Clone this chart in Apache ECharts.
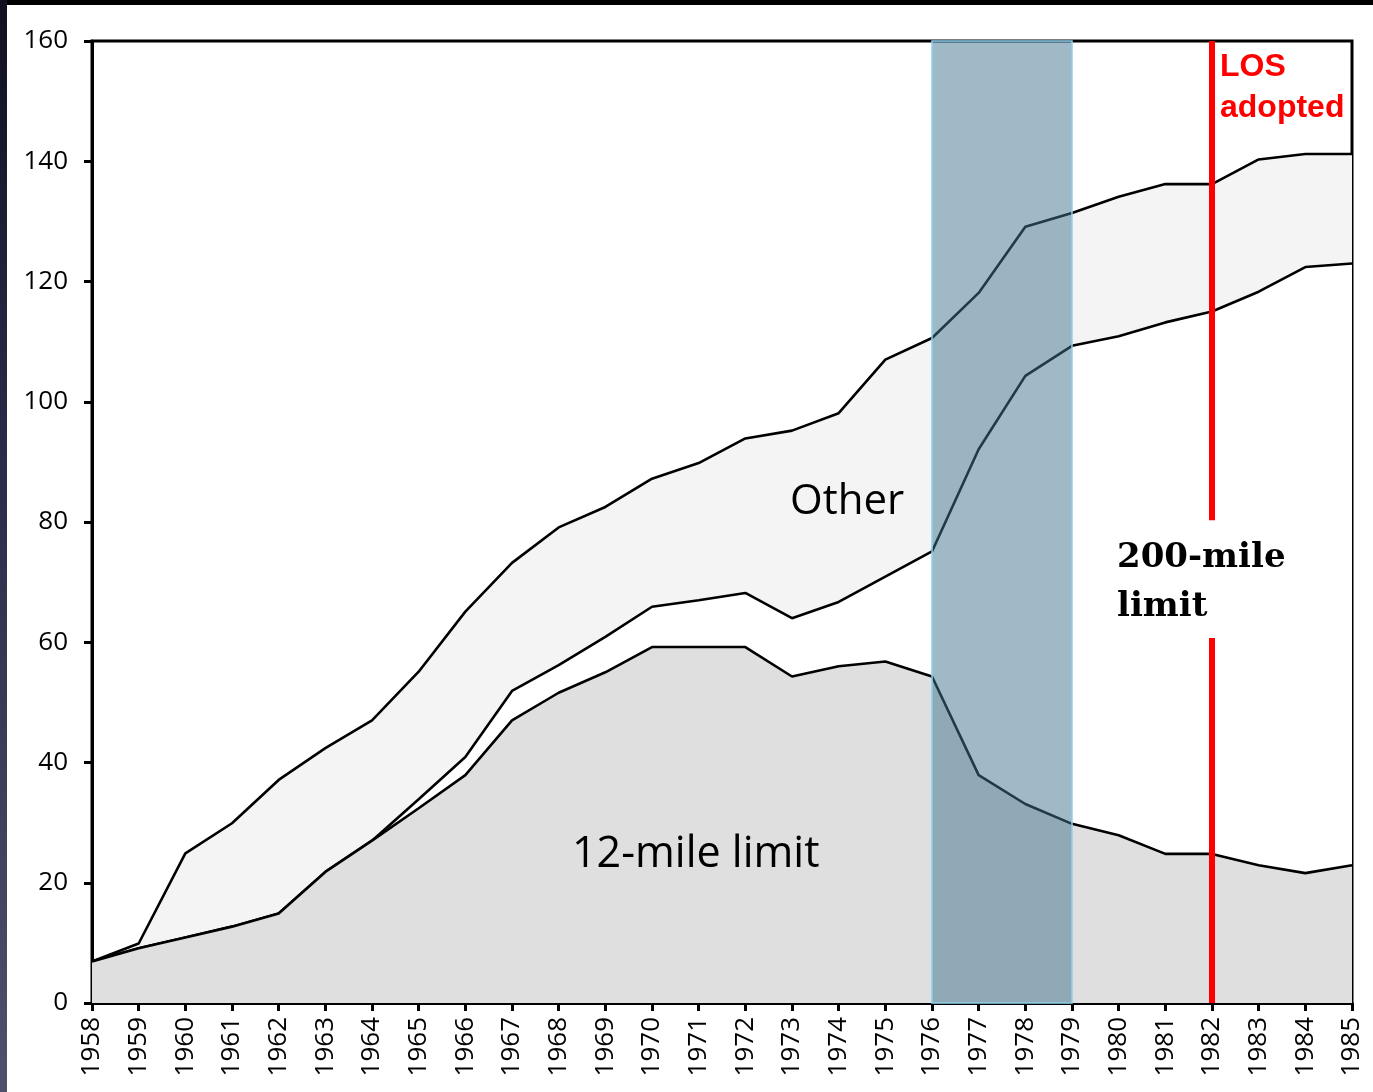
<!DOCTYPE html>
<html>
<head>
<meta charset="utf-8">
<script src="https://cdn.jsdelivr.net/npm/echarts@6/dist/echarts.min.js"></script>
<style>
html,body{margin:0;padding:0;background:#fff;}
#chart{position:absolute;left:0;top:0;width:1373px;height:1092px;}
#bandTop{position:absolute;left:0;top:0;width:1373px;height:5px;background:#000;}
#bandLeft{position:absolute;left:0;top:0;width:7px;height:1092px;background:linear-gradient(#101020,#2a2a48 40%,#50506a);}
</style>
</head>
<body>
<div id="chart"></div>
<div id="bandTop"></div>
<div id="bandLeft"></div>
<script>
const years = ['1958','1959','1960','1961','1962','1963','1964','1965','1966','1967','1968','1969','1970','1971','1972','1973','1974','1975','1976','1977','1978','1979','1980','1981','1982','1983','1984','1985'];
// Boundary lines (cumulative counts of states)
const twelveMile = [6.9, 9.1, 10.9, 12.7, 14.9, 21.8, 27.0, 32.4, 37.9, 47.0, 51.6, 55.0, 59.2, 59.2, 59.2, 54.3, 56.0, 56.8, 54.3, 37.9, 33.1, 29.8, 27.9, 24.8, 24.8, 22.9, 21.6, 22.9];
const withTwoHundredMile = [6.9, 9.1, 10.9, 12.7, 14.9, 21.8, 27.0, 33.9, 40.9, 51.9, 56.2, 60.9, 65.9, 67.0, 68.2, 64.0, 66.7, 70.9, 75.1, 92.1, 104.3, 109.3, 110.9, 113.2, 115.0, 118.3, 122.4, 123.0];
const total = [6.9, 9.9, 24.9, 29.9, 37.1, 42.4, 47.0, 55.1, 65.1, 73.2, 79.1, 82.5, 87.2, 89.8, 93.9, 95.2, 98.1, 107.0, 110.6, 118.1, 129.1, 131.4, 134.1, 136.2, 136.2, 140.3, 141.2, 141.2];
const yTicks = {min: 0, max: 160, interval: 20};
const shadedPeriod = ['1976', '1979'];
const losYear = '1982';
const losGap = [60.7, 80.3];

const chart = echarts.init(document.getElementById('chart'), null, {renderer: 'canvas'});
const lineStyle = {color: '#000', width: 2.6};
const sansFont = '"Open Sans", "Noto Sans", sans-serif';

chart.setOption({
  backgroundColor: 'transparent',
  animation: false,
  grid: {left: 92, right: 21, top: 41, bottom: 89, show: true, borderColor: '#000', borderWidth: 3, backgroundColor: 'transparent'},
  xAxis: {
    type: 'category', data: years, boundaryGap: false,
    axisLine: {lineStyle: {color: '#000', width: 3}},
    axisTick: {show: true, length: 8, lineStyle: {color: '#000', width: 3}},
    axisLabel: {rotate: 90, interval: 0, color: '#000', fontSize: 26, fontFamily: sansFont, margin: 14},
    splitLine: {show: false}
  },
  yAxis: {
    type: 'value', min: yTicks.min, max: yTicks.max, interval: yTicks.interval,
    axisLine: {show: true, lineStyle: {color: '#000', width: 3}},
    axisTick: {show: true, length: 8, lineStyle: {color: '#000', width: 3}},
    axisLabel: {color: '#000', fontSize: 26, fontFamily: sansFont, margin: 24},
    splitLine: {show: false}
  },
  series: [
    {name: 'Total', type: 'line', data: total, symbol: 'none', z: 2,
     lineStyle: lineStyle, areaStyle: {color: '#f4f4f4', opacity: 1, origin: 'start'}},
    {name: '200-mile limit', type: 'line', data: withTwoHundredMile, symbol: 'none', z: 3,
     lineStyle: lineStyle, areaStyle: {color: '#ffffff', opacity: 1, origin: 'start'}},
    {name: '12-mile limit', type: 'line', data: twelveMile, symbol: 'none', z: 4,
     lineStyle: lineStyle, areaStyle: {color: '#dfdfdf', opacity: 1, origin: 'start'}},
    {name: 'annotations', type: 'line', data: [], z: 10, silent: true,
     markArea: {
       silent: true, z: 10,
       itemStyle: {color: 'rgba(63,115,141,0.5)', borderColor: '#8fd0ee', borderWidth: 1.5},
       data: [[{xAxis: shadedPeriod[0], yAxis: yTicks.min}, {xAxis: shadedPeriod[1], yAxis: yTicks.max}]]
     },
     markLine: {
       silent: true, symbol: 'none', label: {show: false}, z: 11,
       lineStyle: {color: '#ff0000', width: 6, type: 'solid'},
       data: [
         [{coord: [losYear, yTicks.min]}, {coord: [losYear, losGap[0]]}],
         [{coord: [losYear, losGap[1]]}, {coord: [losYear, yTicks.max]}]
       ]
     }
    }
  ],
  graphic: [
    {type: 'text', left: 790, top: 481, z: 100, style: {text: 'Other', font: '42px ' + sansFont, fill: '#000'}},
    {type: 'text', left: 572, top: 833, z: 100, style: {text: '12-mile limit', font: '43px ' + sansFont, fill: '#000'}},
    {type: 'text', left: 1117, top: 534, z: 100, style: {text: '200-mile\nlimit', font: 'bold 34px "DejaVu Serif", serif', lineHeight: 49, fill: '#000'}},
    {type: 'text', left: 1220, top: 47, z: 100, style: {text: 'LOS\nadopted', font: 'bold 32px "Liberation Sans", Arial, sans-serif', lineHeight: 41, fill: '#ff0000'}}
  ]
});
</script>
</body>
</html>
